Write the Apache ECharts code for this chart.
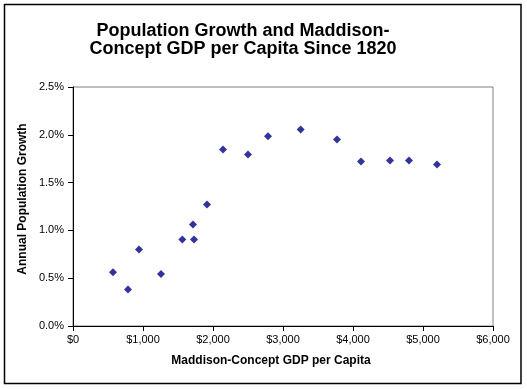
<!DOCTYPE html>
<html>
<head>
<meta charset="utf-8">
<script src="https://cdn.jsdelivr.net/npm/echarts@6/dist/echarts.min.js"></script>
<style>
html,body{margin:0;padding:0;background:#fff;}
#c{width:527px;height:389px;}
</style>
</head>
<body>
<div id="c"></div>
<script>
var titleText = 'Population Growth and Maddison-\nConcept GDP per Capita Since 1820';
var xAxisTitle = 'Maddison-Concept GDP per Capita';
var yAxisTitle = 'Annual Population Growth';
var gdpPerCapita = [571, 786, 943, 1257, 1562, 1729, 1714, 1914, 2143, 2500, 2786, 3253, 3771, 4114, 4529, 4800, 5200];
var popGrowth = [0.561, 0.383, 0.80, 0.543, 0.906, 0.906, 1.063, 1.272, 1.846, 1.794, 1.985, 2.055, 1.951, 1.721, 1.731, 1.731, 1.69];

var points = gdpPerCapita.map(function (g, i) { return [g, popGrowth[i]]; });

var chart = echarts.init(document.getElementById('c'), null, {renderer: 'canvas'});
var font = 'Liberation Sans, Arial, sans-serif';
chart.setOption({
  animation: false,
  backgroundColor: '#fff',
  title: {
    text: titleText,
    left: 238,
    top: 17,
    textAlign: 'center',
    textStyle: {fontFamily: font, fontSize: 18, fontWeight: 'bold', color: '#000', lineHeight: 18}
  },
  graphic: [{
    type: 'rect', silent: true,
    shape: {x: 4.5, y: 4.5, width: 516.5, height: 379},
    style: {fill: 'none', stroke: '#000', lineWidth: 1.5}
  }, {
    type: 'text', silent: true,
    x: 23, y: 199, rotation: Math.PI / 2,
    style: {text: yAxisTitle, fontFamily: font, fontSize: 12, fontWeight: 'bold', fill: '#000',
      align: 'center', verticalAlign: 'middle'}
  }, {
    type: 'text', silent: true,
    x: 271, y: 361,
    style: {text: xAxisTitle, fontFamily: font, fontSize: 12, fontWeight: 'bold', fill: '#000',
      align: 'center', verticalAlign: 'middle'}
  }],
  grid: {left: 73, top: 87, right: 34, bottom: 63, show: true, borderColor: '#808080', borderWidth: 1, backgroundColor: 'transparent'},
  xAxis: {
    type: 'value', min: 0, max: 6000, interval: 1000,
    axisLine: {show: true, lineStyle: {color: '#000', width: 1}},
    axisTick: {show: true, length: 5, lineStyle: {color: '#000'}},
    splitLine: {show: false},
    axisLabel: {fontFamily: font, fontSize: 11, color: '#000', margin: 8,
      formatter: function (v) { return '$' + v.toLocaleString('en-US'); }}
  },
  yAxis: {
    type: 'value', min: 0, max: 2.5, interval: 0.5,
    axisLine: {show: true, lineStyle: {color: '#000', width: 1}},
    axisTick: {show: true, length: 5, lineStyle: {color: '#000'}},
    splitLine: {show: false},
    axisLabel: {fontFamily: font, fontSize: 11, color: '#000', margin: 9,
      formatter: function (v) { return v.toFixed(1) + '%'; }}
  },
  series: [{
    type: 'scatter',
    data: points,
    symbol: 'diamond',
    symbolSize: 8,
    itemStyle: {color: '#000080'}
  }]
});
</script>
</body>
</html>
